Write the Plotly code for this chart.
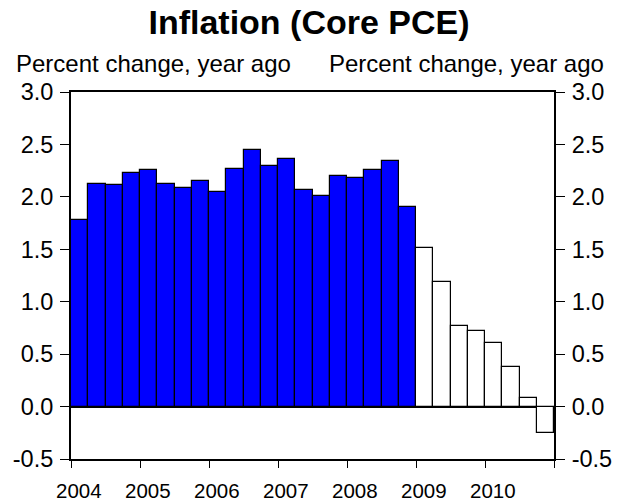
import plotly.graph_objects as go

# Quarterly core PCE inflation, percent change from a year ago
actual_quarters = [f"{y}Q{q}" for y in range(2004, 2009) for q in range(1, 5)]
actual_values = [1.78, 2.12, 2.11, 2.23, 2.26, 2.12, 2.08, 2.15, 2.05, 2.27,
                 2.45, 2.29, 2.36, 2.07, 2.01, 2.20, 2.18, 2.26, 2.34, 1.90]

forecast_quarters = [f"{y}Q{q}" for y in range(2009, 2011) for q in range(1, 5)]
forecast_values = [1.51, 1.19, 0.77, 0.72, 0.61, 0.38, 0.08, -0.25]

year_labels = ["2004", "2005", "2006", "2007", "2008", "2009", "2010"]
y_ticks = [-0.5, 0.0, 0.5, 1.0, 1.5, 2.0, 2.5, 3.0]
y_tick_labels = ["-0.5", "0.0", "0.5", "1.0", "1.5", "2.0", "2.5", "3.0"]


def quarter_pos(label):
    y, q = label.split("Q")
    return int(y) + (int(q) - 0.5) / 4.0


FONT = "Liberation Sans, Arial, Helvetica, sans-serif"

fig = go.Figure()
fig.add_trace(go.Bar(
    x=[quarter_pos(q) for q in actual_quarters], y=actual_values,
    width=0.25, marker=dict(color="#0000FF", line=dict(color="black", width=1.2)),
    showlegend=False, hoverinfo="x+y"))
fig.add_trace(go.Bar(
    x=[quarter_pos(q) for q in forecast_quarters], y=forecast_values, yaxis="y2",
    width=0.25, marker=dict(color="white", line=dict(color="black", width=1.2)),
    showlegend=False, hoverinfo="x+y"))

year_ticks = [int(y) for y in year_labels] + [int(year_labels[-1]) + 1]

yax_common = dict(range=[y_ticks[0], y_ticks[-1]], tickvals=y_ticks, ticktext=y_tick_labels,
                  ticks="outside", ticklen=9, tickwidth=1.3, tickcolor="black",
                  showline=True, linecolor="black", linewidth=2, showgrid=False,
                  ticklabelstandoff=2, automargin=False,
                  tickfont=dict(family=FONT, size=23.5, color="black"))

fig.update_layout(
    width=618, height=501, autosize=False,
    margin=dict(l=71, r=64, t=92, b=42),
    paper_bgcolor="white", plot_bgcolor="white",
    bargap=0, barmode="overlay",
    title=dict(text="<b>Inflation (Core PCE)</b>", x=0.5, xanchor="center",
               y=1 - 22.5 / 501, yanchor="middle", yref="container",
               font=dict(family=FONT, size=34, color="black")),
    xaxis=dict(range=[year_ticks[0], year_ticks[-1]], tickvals=year_ticks,
               showticklabels=False, ticks="outside", ticklen=7, tickwidth=1.3,
               tickcolor="black", showline=True, linecolor="black", linewidth=1.5,
               mirror=True, showgrid=False, zeroline=False, automargin=False),
    yaxis=dict(**yax_common, zeroline=True, zerolinecolor="black", zerolinewidth=1.5),
    yaxis2=dict(**yax_common, overlaying="y", side="right", zeroline=False),
)

annotations = []
for lab in year_labels:
    annotations.append(dict(x=int(lab) + 0.123, y=-0.0858, xref="x", yref="paper",
                            text=lab, showarrow=False, xanchor="center", yanchor="middle",
                            font=dict(family=FONT, size=20.5, color="black")))
annotations.append(dict(x=(14 - 71) / 483, y=1.079, xref="paper", yref="paper",
                        text="Percent change, year ago", showarrow=False,
                        xanchor="left", yanchor="middle",
                        font=dict(family=FONT, size=24, color="black")))
annotations.append(dict(x=(606 - 71) / 483, y=1.079, xref="paper", yref="paper",
                        text="Percent change, year ago", showarrow=False,
                        xanchor="right", yanchor="middle",
                        font=dict(family=FONT, size=24, color="black")))
fig.update_layout(annotations=annotations)

fig.write_html("out.html", config={"displayModeBar": False},
               post_script="document.body.style.margin='0';")
